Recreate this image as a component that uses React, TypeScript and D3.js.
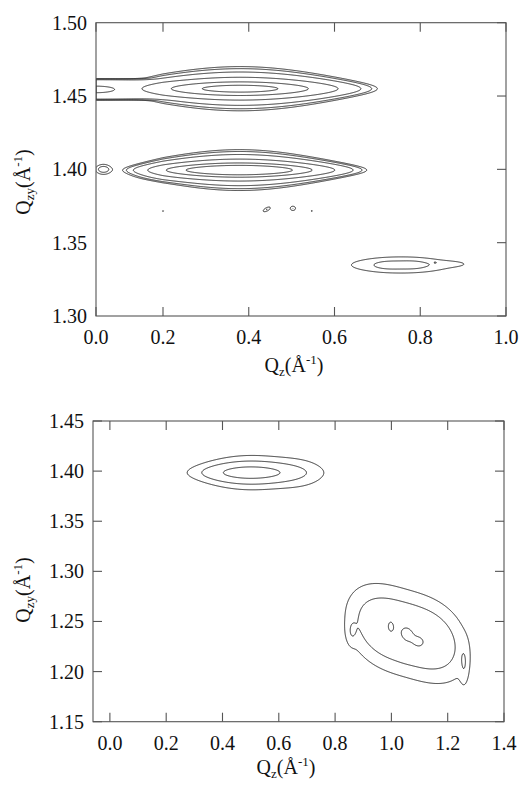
import React, { useMemo } from "react";
import * as d3 from "d3";

// ---- axis ticks ----
const topQzTicks = [0.0, 0.2, 0.4, 0.6, 0.8, 1.0];
const topQzyTicks = [1.3, 1.35, 1.4, 1.45, 1.5];
const bottomQzTicks = [0.0, 0.2, 0.4, 0.6, 0.8, 1.0, 1.2, 1.4];
const bottomQzyTicks = [1.15, 1.2, 1.25, 1.3, 1.35, 1.4, 1.45];

// ---- contour levels (intensity, arbitrary units) ----
const topLevels = [0.18, 0.3, 0.75, 4, 21, 62];
const bottomLevels = [1, 4, 16];

// ---- reflections: centre (qz, qzy), amplitude, widths, tail/edge shape, tilt ----
// top map: main Bragg rods
const topReflections = [
  { qz: 0.38, qzy: 1.455, amp: 100, wz: 0.09, wzy: 0.00229, tail: 3 },
  { qz: 0.378, qzy: 1.3995, amp: 212, wz: 0.079, wzy: 0.00184, tail: 3 },
  { qz: 0.24, qzy: 1.3965, amp: 0.8, wz: 0.06, wzy: 0.0022 },
  { qz: 0.022, qzy: 1.4, amp: 0.4, wz: 0.019, wzy: 0.0025, tail: 3 },
];
// specular streak at qz = 0 feeding the upper rod
const topStreak = [
  { qz: 0.0, qzy: 1.4545, amp: 2.2, wz: 0.14, wzy: 0.006, yEdge: 8 },
  { qz: 0.0, qzy: 1.4545, amp: 10, wz: 0.03, wzy: 0.0012 },
];
// weak reflection near qz 0.8
const topWeak = [
  { qz: 0.755, qzy: 1.3348, amp: 0.35, wz: 0.1, wzy: 0.0045, tail: 3 },
  { qz: 0.722, qzy: 1.3345, amp: 0.04, wz: 0.02, wzy: 0.002 },
  { qz: 0.785, qzy: 1.335, amp: 0.04, wz: 0.02, wzy: 0.002 },
  { qz: 0.88, qzy: 1.3355, amp: 0.08, wz: 0.03, wzy: 0.0015 },
];
// isolated speckles
const topSpeckles = [
  { qz: 0.442, qzy: 1.3727, amp: 0.3, wz: 0.008, wzy: 0.0012, tilt: 0.12 },
  { qz: 0.503, qzy: 1.3734, amp: 0.3, wz: 0.006, wzy: 0.0014 },
  { qz: 0.2, qzy: 1.3716, amp: 0.2, wz: 0.003, wzy: 0.0005 },
  { qz: 0.547, qzy: 1.3716, amp: 0.2, wz: 0.003, wzy: 0.0005 },
  { qz: 0.835, qzy: 1.3365, amp: 0.06, wz: 0.003, wzy: 0.0004 },
];

// bottom map
const bottomReflections = [
  { qz: 0.5, qzy: 1.3985, amp: 30, wz: 0.0864, wzy: 0.0048, tail: 3 },
  { qz: 0.66, qzy: 1.398, amp: 2.2, wz: 0.065, wzy: 0.009 },
  { qz: 1.055, qzy: 1.238, amp: 14.5, wz: 0.125, wzy: 0.019, zEdge: 3, tilt: -0.08 },
];
const bottomBumps = [
  { qz: 0.997, qzy: 1.246, amp: 3.5, wz: 0.01, wzy: 0.006 },
  { qz: 1.055, qzy: 1.236, amp: 2.6, wz: 0.02, wzy: 0.011 },
  { qz: 1.098, qzy: 1.228, amp: 3.5, wz: 0.018, wzy: 0.005 },
  { qz: 0.86, qzy: 1.24, amp: 3, wz: 0.012, wzy: 0.008 },
  { qz: 1.258, qzy: 1.208, amp: 3.2, wz: 0.01, wzy: 0.012 },
];

type Peak = {
  qz: number; qzy: number; amp: number; wz: number; wzy: number;
  tail?: number; zEdge?: number; yEdge?: number; tilt?: number;
};

function intensity(peaks: Peak[], qz: number, qzy: number) {
  let s = 0;
  for (const p of peaks) {
    const ddz = qz - p.qz;
    const dz = Math.abs(ddz / p.wz);
    if (dz > 6) continue;
    const dyRaw = qzy - p.qzy - (p.tilt ?? 0) * ddz;
    const dy = Math.abs(dyRaw / p.wzy);
    if (dy > 60) continue;
    const m = p.tail ?? 400;
    const ze = p.zEdge ?? 2;
    const ye = p.yEdge ?? 2;
    s += p.amp * Math.exp(-0.5 * Math.pow(dz, ze)) * Math.pow(1 + Math.pow(dy, ye) / (2 * m), -m);
  }
  return s;
}

type Panel = {
  left: number; right: number; top: number; bottom: number;
  qzDomain: number[]; qzRange: number[]; qzyDomain: [number, number];
  qzTicks: number[]; qzyTicks: number[];
  levels: number[]; peaks: Peak[];
  grid: [number, number]; gridQz: [number, number];
  leftTicks: boolean;
  titleX: number; titleY: number; yTitleY: number;
};

const FONT = "Liberation Serif";

function ContourPanel({ panel }: { panel: Panel }) {
  const { left, right, top, bottom } = panel;
  const x = d3.scaleLinear().domain(panel.qzDomain).range(panel.qzRange);
  const y = d3.scaleLinear().domain(panel.qzyDomain).range([bottom, top]);

  const paths = useMemo(() => {
    const [nx, ny] = panel.grid;
    const [z0, z1] = panel.gridQz;
    const [y0, y1] = panel.qzyDomain;
    const sz = (z1 - z0) / (nx - 1);
    const sy = (y1 - y0) / (ny - 1);
    const values = new Float64Array(nx * ny);
    for (let j = 0; j < ny; j++) {
      const qzy = y1 - j * sy;
      for (let i = 0; i < nx; i++) {
        values[i + j * nx] = intensity(panel.peaks, z0 + i * sz, qzy);
      }
    }
    const contours = d3.contours().size([nx, ny]).thresholds(panel.levels)(values as any);
    const proj = d3.geoTransform({
      point(px: number, py: number) {
        (this as any).stream.point(x(z0 + (px - 0.5) * sz), y(y1 - (py - 0.5) * sy));
      },
    });
    const path = d3.geoPath(proj);
    return contours.map((c) => path(c as any) || "");
  }, [panel]);

  const clipId = `clip-${Math.round(top)}`;
  const tickLen = 9;
  const frame = "#555";

  return (
    <g>
      <defs>
        <clipPath id={clipId}>
          <rect x={left} y={top} width={right - left} height={bottom - top} />
        </clipPath>
      </defs>
      <g clipPath={`url(#${clipId})`} fill="none" stroke="#1a1a1a" strokeWidth={0.9} strokeLinejoin="round">
        {paths.map((d, k) => (
          <path key={k} d={d} />
        ))}
      </g>
      <rect x={left} y={top} width={right - left} height={bottom - top} fill="none" stroke={frame} strokeWidth={1.1} />
      {/* inward ticks */}
      <g stroke={frame} strokeWidth={1.1}>
        {panel.qzTicks.map((t) => (
          <g key={`xt${t}`}>
            <line x1={x(t)} x2={x(t)} y1={top} y2={top + tickLen} />
            <line x1={x(t)} x2={x(t)} y1={bottom} y2={bottom - tickLen} />
          </g>
        ))}
        {panel.qzyTicks.map((t) => (
          <g key={`yt${t}`}>
            <line x1={right} x2={right - tickLen} y1={y(t)} y2={y(t)} />
            {panel.leftTicks && <line x1={left} x2={left + tickLen} y1={y(t)} y2={y(t)} />}
          </g>
        ))}
      </g>
      <g style={{ fontFamily: FONT }} fontSize={20} fill="#111">
        {panel.qzTicks.map((t) => (
          <text key={`xl${t}`} x={x(t)} y={bottom + 28} textAnchor="middle">
            {t.toFixed(1)}
          </text>
        ))}
        {panel.qzyTicks.map((t) => (
          <text key={`yl${t}`} x={left - 9} y={y(t) + 7} textAnchor="end">
            {t.toFixed(2)}
          </text>
        ))}
        <text x={panel.titleX} y={panel.titleY} textAnchor="middle">
          Q<tspan fontSize={13} dy={4}>z</tspan>
          <tspan dy={-4}>(Å</tspan>
          <tspan fontSize={13} dy={-8}>-1</tspan>
          <tspan dy={8}>)</tspan>
        </text>
        <text transform={`translate(30,${panel.yTitleY}) rotate(-90)`} textAnchor="middle">
          Q<tspan fontSize={13} dy={4}>zy</tspan>
          <tspan dy={-4}>(Å</tspan>
          <tspan fontSize={13} dy={-8}>-1</tspan>
          <tspan dy={8}>)</tspan>
        </text>
      </g>
    </g>
  );
}

const topPanel: Panel = {
  left: 96, right: 506, top: 22.7, bottom: 316,
  qzDomain: [0, 0.2, 1.0], qzRange: [96, 163, 506], qzyDomain: [1.3, 1.5],
  qzTicks: topQzTicks, qzyTicks: topQzyTicks,
  levels: topLevels,
  peaks: [...topReflections, ...topStreak, ...topWeak, ...topSpeckles],
  grid: [800, 900], gridQz: [0, 1.0],
  leftTicks: false,
  titleX: 294, titleY: 372, yTitleY: 182,
};

const bottomPanel: Panel = {
  left: 93, right: 504, top: 421, bottom: 721.7,
  qzDomain: [-0.06, 1.4], qzRange: [93, 504], qzyDomain: [1.15, 1.45],
  qzTicks: bottomQzTicks, qzyTicks: bottomQzyTicks,
  levels: bottomLevels,
  peaks: [...bottomReflections, ...bottomBumps],
  grid: [700, 650], gridQz: [-0.06, 1.4],
  leftTicks: true,
  titleX: 286, titleY: 774, yTitleY: 590,
};

export default function App() {
  return (
    <svg width={525} height={785} style={{ position: "absolute", left: 0, top: 0, background: "#fff" }}>
      <rect width={525} height={785} fill="#fff" />
      <ContourPanel panel={topPanel} />
      <ContourPanel panel={bottomPanel} />
    </svg>
  );
}
